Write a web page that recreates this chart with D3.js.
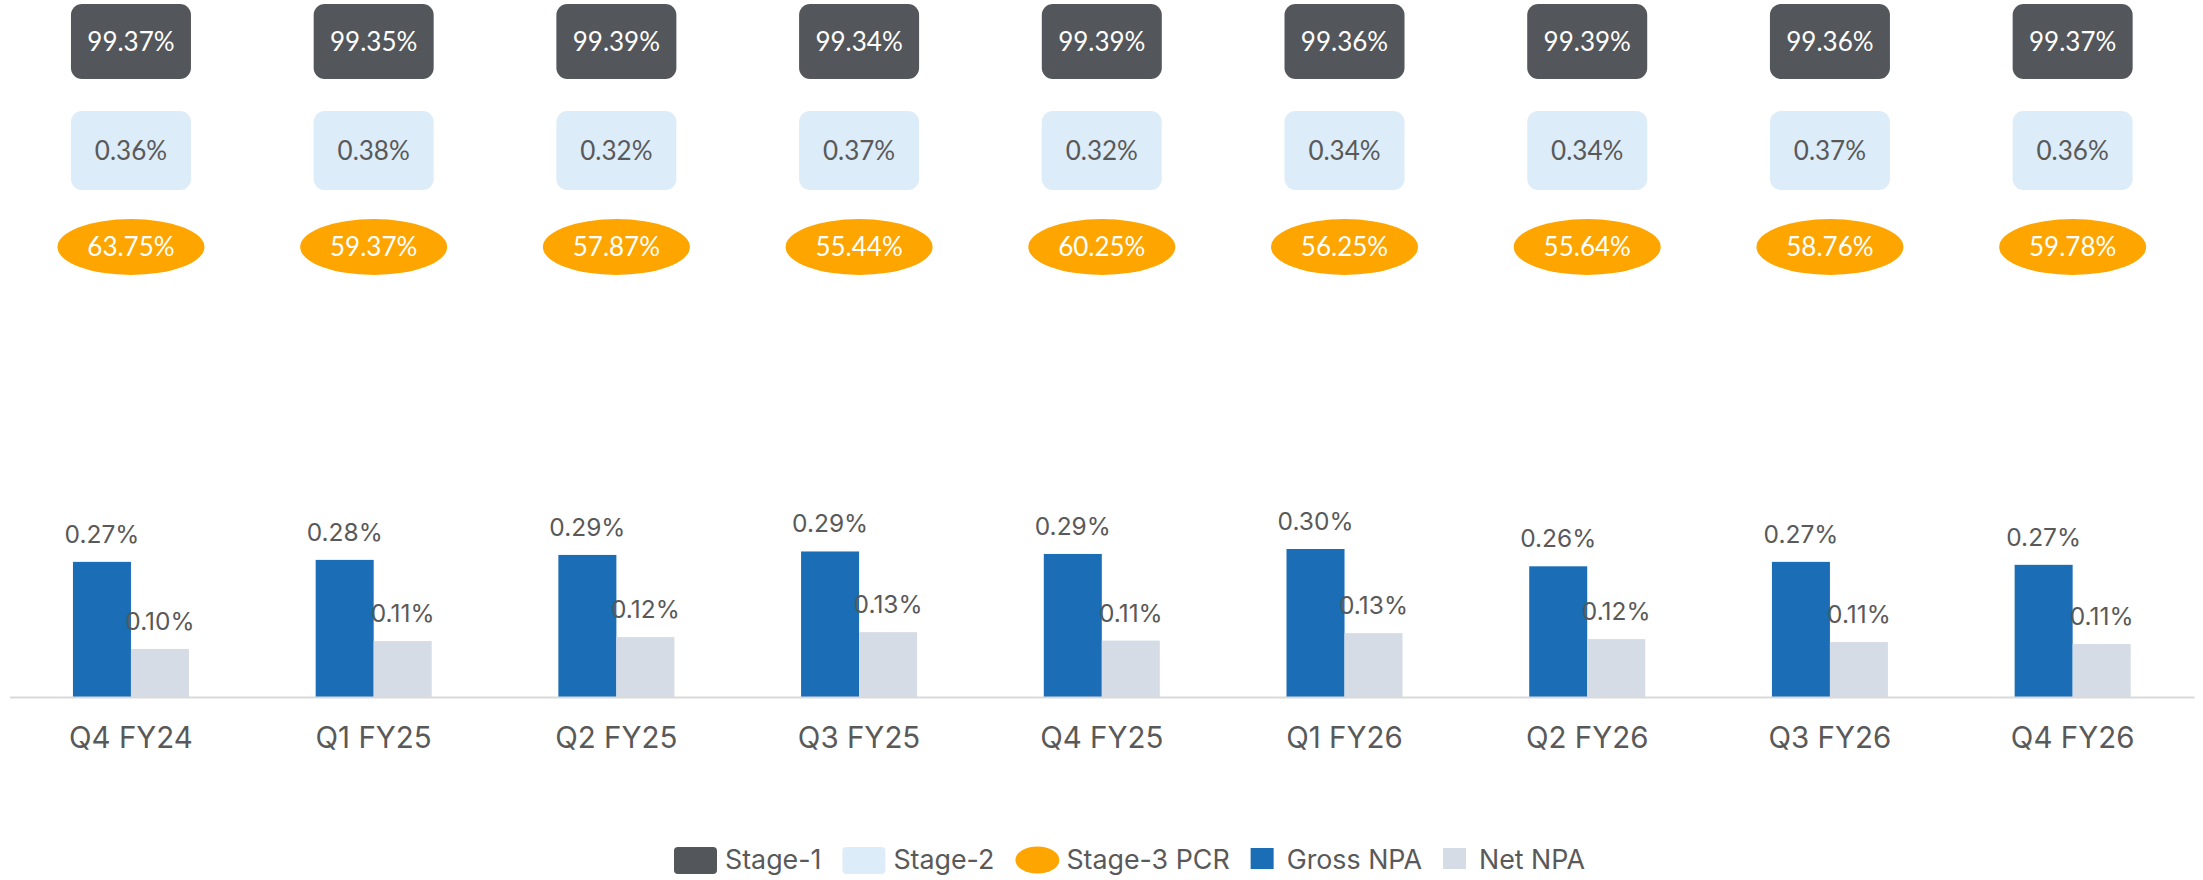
<!DOCTYPE html>
<html>
<head>
<meta charset="utf-8">
<script src="https://cdn.jsdelivr.net/npm/d3@7"></script>
<style>
  html, body { margin: 0; padding: 0; background: #fff; }
  svg { display: block; }
</style>
</head>
<body>
<svg id="chart" width="2203" height="880"></svg>
<script>
// ---- data ----
const categories = ["Q4 FY24","Q1 FY25","Q2 FY25","Q3 FY25","Q4 FY25","Q1 FY26","Q2 FY26","Q3 FY26","Q4 FY26"];
const stage1 = [99.37, 99.35, 99.39, 99.34, 99.39, 99.36, 99.39, 99.36, 99.37];
const stage2 = [0.36, 0.38, 0.32, 0.37, 0.32, 0.34, 0.34, 0.37, 0.36];
const stage3PCR = [63.75, 59.37, 57.87, 55.44, 60.25, 56.25, 55.64, 58.76, 59.78];
const grossNPA = [0.273, 0.277, 0.287, 0.294, 0.289, 0.299, 0.264, 0.273, 0.267];
const netNPA = [0.097, 0.113, 0.121, 0.131, 0.114, 0.129, 0.117, 0.111, 0.107];
const seriesKeys = ["Gross NPA", "Net NPA"];
const legendItems = ["Stage-1", "Stage-2", "Stage-3 PCR", "Gross NPA", "Net NPA"];

// ---- styles ----
const C = {
  stage1: "#53565a", stage2: "#ddecf9", pcr: "#ffa500",
  gross: "#1b6db5", net: "#d6dce5", text: "#595959", axis: "#d9d9d9"
};
const labelFont = "Inter, 'Noto Sans', sans-serif";
const badgeFont = "Lato, 'Open Sans', sans-serif";

const svg = d3.select("#chart");
const baseY = 697;

const x = d3.scaleBand().domain(categories).range([9.6, 2194]).paddingInner(0.522).paddingOuter(0.261);
const x1 = d3.scaleBand().domain(seriesKeys).range([0, x.bandwidth()]);
const y = d3.scaleLinear().domain([0, 0.3]).range([baseY, baseY - 148.5]);
const fmt = d3.format(".2f");

const rows = categories.map((c, i) => ({
  cat: c, s1: stage1[i], s2: stage2[i], pcr: stage3PCR[i],
  vals: [{k: "Gross NPA", v: grossNPA[i]}, {k: "Net NPA", v: netNPA[i]}]
}));

// ---- bars ----
const g = svg.append("g").selectAll("g").data(rows).join("g")
  .attr("transform", d => `translate(${x(d.cat)},0)`);
g.selectAll("rect").data(d => d.vals).join("rect")
  .attr("x", d => x1(d.k)).attr("width", x1.bandwidth())
  .attr("y", d => y(d.v)).attr("height", d => baseY - y(d.v))
  .attr("fill", d => d.k === "Gross NPA" ? C.gross : C.net);
g.selectAll("text.v").data(d => d.vals).join("text").attr("class", "v")
  .attr("x", d => x1(d.k) + x1.bandwidth() / 2)
  .attr("y", d => y(d.v) - 19)
  .attr("text-anchor", "middle")
  .attr("font-family", labelFont).attr("font-size", 24.5).attr("fill", C.text)
  .text(d => fmt(d.v) + "%");

// ---- axis ----
const xAxis = d3.axisBottom(x).tickSize(0).tickPadding(36);
const ax = svg.append("g").attr("transform", `translate(0,${baseY})`).call(xAxis);
ax.select(".domain").attr("stroke", C.axis).attr("stroke-width", 2);
ax.selectAll("text").attr("font-family", labelFont).attr("font-size", 29.5).attr("fill", C.text)
  .attr("dy", "0").attr("y", 51);

// ---- top badges ----
const b = svg.append("g").selectAll("g").data(rows).join("g")
  .attr("transform", d => `translate(${x(d.cat) + x.bandwidth() / 2},0)`);
b.append("rect").attr("x", -60).attr("y", 4).attr("width", 120).attr("height", 75)
  .attr("rx", 11).attr("fill", C.stage1);
b.append("text").attr("y", 51).attr("text-anchor", "middle")
  .attr("font-family", badgeFont).attr("font-size", 26).attr("fill", "#fff")
  .text(d => fmt(d.s1) + "%");
b.append("rect").attr("x", -60).attr("y", 111).attr("width", 120).attr("height", 79)
  .attr("rx", 11).attr("fill", C.stage2);
b.append("text").attr("y", 160).attr("text-anchor", "middle")
  .attr("font-family", badgeFont).attr("font-size", 26).attr("fill", C.text)
  .text(d => fmt(d.s2) + "%");
b.append("ellipse").attr("cx", 0).attr("cy", 247).attr("rx", 73.5).attr("ry", 28)
  .attr("fill", C.pcr);
b.append("text").attr("y", 256).attr("text-anchor", "middle")
  .attr("font-family", badgeFont).attr("font-size", 26).attr("fill", "#fff")
  .text(d => fmt(d.pcr) + "%");

// ---- legend ----
const lg = svg.append("g");
let lx = 674;
const ly = 869;
legendItems.forEach((name, i) => {
  if (i === 0 || i === 1) {
    lg.append("rect").attr("x", lx).attr("y", 847).attr("width", 43).attr("height", 27)
      .attr("rx", 4).attr("fill", i === 0 ? C.stage1 : C.stage2);
    lx += 43 + 8;
  } else if (i === 2) {
    lg.append("ellipse").attr("cx", lx + 22).attr("cy", 860).attr("rx", 22).attr("ry", 13.5)
      .attr("fill", C.pcr);
    lx += 44 + 7;
  } else {
    lg.append("rect").attr("x", lx).attr("y", 848).attr("width", 23).attr("height", 21)
      .attr("fill", i === 3 ? C.gross : C.net);
    lx += 23 + 13;
  }
  const t = lg.append("text").attr("x", lx).attr("y", ly)
    .attr("font-family", labelFont).attr("font-size", 26.8).attr("fill", C.text).text(name);
  lx += t.node().getComputedTextLength() + 21;
});
</script>
</body>
</html>
